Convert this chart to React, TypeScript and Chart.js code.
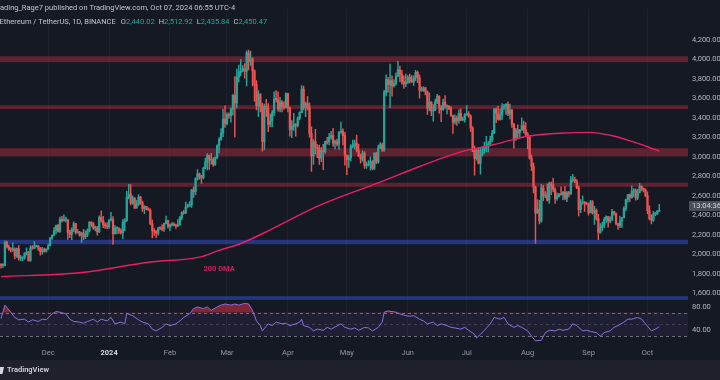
import React, { useEffect, useRef } from "react";
import { Chart, registerables } from "chart.js";

Chart.register(...registerables);

// ---------- data (ETH/USDT daily, idx 0 = 2023-11-07 ... idx 335 = 2024-10-07) ----------
const FIRST_OPEN = 1894;

const closes = [
  // Nov 7 - Nov 30
  1885, 1889, 2121, 2077, 2052, 2045, 2054, 1979, 2057, 1960, 1962, 1963, 2013, 2020, 1931, 2063, 2062, 2081, 2084, 2063, 2027, 2048, 2028, 2052,
  // Dec
  2087, 2166, 2193, 2243, 2293, 2233, 2358, 2344, 2352, 2353, 2225, 2203, 2260, 2315, 2220, 2228, 2196, 2217, 2178, 2200, 2240, 2326, 2311, 2267, 2272, 2231, 2378, 2345, 2300, 2292, 2282,
  // Jan
  2352, 2355, 2210, 2268, 2268, 2240, 2222, 2331, 2345, 2585, 2617, 2524, 2576, 2472, 2511, 2587, 2528, 2467, 2490, 2469, 2454, 2313, 2241, 2236, 2218, 2268, 2267, 2256, 2317, 2344, 2283,
  // Feb
  2304, 2309, 2296, 2290, 2300, 2373, 2425, 2421, 2486, 2500, 2506, 2658, 2641, 2777, 2824, 2803, 2784, 2880, 2944, 3013, 2966, 2971, 2922, 2991, 3112, 3178, 3243, 3385, 3340,
  // Mar
  3433, 3421, 3488, 3630, 3553, 3817, 3868, 3883, 3905, 3878, 4066, 3980, 4004, 3882, 3740, 3524, 3645, 3516, 3158, 3517, 3494, 3330, 3366, 3453, 3590, 3586, 3488, 3560, 3510, 3507, 3647,
  // Apr
  3505, 3277, 3311, 3329, 3318, 3397, 3453, 3694, 3506, 3545, 3503, 3240, 3007, 3155, 3100, 3085, 2985, 3064, 3055, 3158, 3148, 3201, 3218, 3139, 3155, 3130, 3253, 3263, 3217, 3015,
  // May
  2970, 2988, 3103, 3117, 3137, 3064, 3005, 2974, 3037, 2910, 2912, 2930, 2950, 2881, 3038, 2945, 3092, 3123, 3071, 3662, 3790, 3738, 3780, 3728, 3749, 3826, 3892, 3843, 3767, 3747, 3761,
  // Jun
  3814, 3780, 3767, 3810, 3866, 3812, 3679, 3681, 3706, 3665, 3499, 3561, 3470, 3480, 3565, 3621, 3509, 3483, 3561, 3515, 3518, 3494, 3419, 3354, 3396, 3369, 3445, 3375, 3380, 3432,
  // Jul
  3441, 3418, 3295, 3057, 2982, 3066, 2931, 3018, 3066, 3099, 3101, 3136, 3177, 3245, 3485, 3443, 3386, 3426, 3505, 3518, 3536, 3440, 3479, 3337, 3172, 3274, 3246, 3270, 3320, 3279, 3232,
  // Aug
  3205, 2986, 2902, 2688, 2420, 2461, 2342, 2682, 2597, 2610, 2555, 2722, 2703, 2664, 2569, 2593, 2614, 2612, 2636, 2573, 2632, 2622, 2763, 2768, 2746, 2681, 2457, 2528, 2530, 2524, 2513,
  // Sep
  2424, 2538, 2424, 2450, 2367, 2224, 2272, 2297, 2359, 2387, 2340, 2361, 2437, 2418, 2316, 2294, 2341, 2375, 2467, 2561, 2613, 2581, 2646, 2654, 2579, 2633, 2696, 2676, 2658, 2602,
  // Oct 1 - Oct 7
  2447, 2364, 2350, 2414, 2414, 2440.02, 2450.47,
];

const highs = [
  1905, 1905, 2137, 2135, 2093, 2067, 2117, 2066, 2063, 2090, 1990, 1971, 2015, 2066, 2030, 2090, 2089, 2130, 2092, 2092, 2070, 2070, 2063, 2055,
  2105, 2170, 2200, 2275, 2300, 2307, 2380, 2390, 2403, 2380, 2355, 2245, 2270, 2333, 2316, 2255, 2236, 2225, 2256, 2240, 2260, 2336, 2335, 2325, 2290, 2285, 2394, 2445, 2388, 2324, 2322,
  2353, 2431, 2385, 2295, 2280, 2272, 2260, 2357, 2365, 2644, 2717, 2715, 2600, 2580, 2550, 2613, 2594, 2545, 2500, 2485, 2475, 2465, 2350, 2262, 2242, 2275, 2280, 2305, 2320, 2392, 2350,
  2310, 2325, 2325, 2310, 2355, 2390, 2436, 2450, 2535, 2515, 2540, 2665, 2689, 2783, 2867, 2832, 2808, 2895, 2985, 3033, 3016, 3035, 2990, 3000, 3122, 3197, 3288, 3487, 3523,
  3450, 3451, 3500, 3637, 3823, 3900, 3939, 3995, 3935, 3955, 4087, 4093, 4083, 4015, 3890, 3780, 3677, 3615, 3548, 3539, 3588, 3544, 3437, 3475, 3665, 3678, 3665, 3610, 3576, 3565, 3655,
  3650, 3508, 3370, 3445, 3340, 3410, 3460, 3730, 3725, 3560, 3618, 3553, 3306, 3177, 3280, 3125, 3120, 3095, 3128, 3160, 3200, 3240, 3260, 3292, 3170, 3180, 3257, 3355, 3285, 3250,
  3020, 3015, 3124, 3170, 3170, 3222, 3130, 3025, 3060, 3052, 2945, 2960, 2998, 2960, 3040, 3042, 3120, 3145, 3140, 3680, 3840, 3815, 3950, 3830, 3790, 3860, 3977, 3930, 3885, 3830, 3848,
  3833, 3848, 3832, 3830, 3887, 3878, 3840, 3714, 3720, 3712, 3672, 3655, 3565, 3535, 3590, 3640, 3625, 3525, 3590, 3628, 3531, 3525, 3515, 3428, 3430, 3420, 3480, 3490, 3407, 3442,
  3524, 3464, 3430, 3310, 3110, 3080, 3090, 3094, 3105, 3150, 3208, 3155, 3208, 3270, 3495, 3498, 3518, 3489, 3544, 3538, 3545, 3563, 3540, 3487, 3340, 3290, 3327, 3280, 3400, 3365, 3350,
  3248, 3218, 3017, 2935, 2698, 2560, 2553, 2716, 2707, 2642, 2722, 2740, 2740, 2780, 2680, 2630, 2625, 2690, 2645, 2695, 2645, 2645, 2800, 2820, 2792, 2765, 2700, 2560, 2600, 2540, 2535,
  2525, 2553, 2550, 2490, 2465, 2408, 2315, 2330, 2375, 2393, 2390, 2385, 2460, 2440, 2424, 2316, 2392, 2375, 2485, 2565, 2615, 2618, 2702, 2673, 2672, 2665, 2728, 2703, 2680, 2672,
  2640, 2498, 2404, 2440, 2427, 2450, 2512.92,
];

const lows = [
  1857, 1865, 1879, 2065, 2040, 2025, 2030, 1951, 1968, 1940, 1932, 1933, 1950, 1994, 1930, 1931, 2050, 2057, 2076, 2039, 1990, 2000, 2020, 2020,
  2049, 2085, 2152, 2188, 2208, 2227, 2225, 2330, 2340, 2330, 2151, 2170, 2150, 2232, 2205, 2215, 2185, 2120, 2150, 2160, 2180, 2230, 2285, 2255, 2240, 2195, 2220, 2330, 2272, 2266, 2260,
  2265, 2341, 2100, 2205, 2208, 2212, 2205, 2160, 2240, 2336, 2568, 2507, 2513, 2470, 2475, 2500, 2510, 2440, 2415, 2455, 2450, 2304, 2168, 2193, 2170, 2196, 2252, 2240, 2234, 2311, 2268,
  2242, 2288, 2290, 2265, 2282, 2297, 2355, 2410, 2418, 2480, 2490, 2480, 2582, 2610, 2760, 2768, 2726, 2772, 2877, 2865, 2870, 2924, 2900, 2910, 2980, 3040, 3168, 3205, 3300,
  3325, 3393, 3355, 3427, 3200, 3500, 3768, 3830, 3870, 3805, 3725, 3890, 3936, 3725, 3570, 3480, 3410, 3460, 3056, 3072, 3413, 3256, 3305, 3305, 3422, 3560, 3468, 3460, 3460, 3485, 3500,
  3460, 3212, 3195, 3270, 3210, 3305, 3380, 3450, 3480, 3410, 3480, 3200, 2850, 2920, 3030, 2990, 2920, 2950, 2868, 3035, 3130, 3120, 3180, 3105, 3080, 3110, 3075, 3240, 3120, 2914,
  2817, 2890, 2958, 3090, 3080, 3050, 3000, 2935, 2953, 2880, 2880, 2905, 2863, 2865, 2866, 2930, 2935, 3083, 3055, 3055, 3623, 3660, 3502, 3622, 3713, 3735, 3820, 3770, 3745, 3700, 3718,
  3752, 3753, 3760, 3730, 3780, 3760, 3600, 3670, 3670, 3635, 3435, 3470, 3420, 3365, 3472, 3544, 3443, 3360, 3475, 3495, 3440, 3480, 3415, 3240, 3335, 3320, 3345, 3370, 3370, 3355,
  3423, 3403, 3260, 3053, 2810, 2965, 2925, 2822, 3005, 3035, 3050, 3050, 3120, 3155, 3240, 3350, 3375, 3374, 3380, 3480, 3433, 3420, 3388, 3300, 3087, 3170, 3191, 3200, 3295, 3245, 3215,
  3080, 2976, 2858, 2630, 2111, 2420, 2310, 2325, 2550, 2580, 2545, 2520, 2610, 2640, 2520, 2555, 2585, 2605, 2560, 2557, 2538, 2587, 2612, 2740, 2735, 2673, 2393, 2425, 2510, 2440, 2505,
  2400, 2425, 2410, 2306, 2350, 2150, 2217, 2240, 2272, 2325, 2278, 2320, 2345, 2400, 2300, 2255, 2273, 2275, 2373, 2448, 2535, 2540, 2575, 2590, 2555, 2560, 2630, 2650, 2640, 2590,
  2415, 2352, 2310, 2337, 2396, 2405, 2435.84,
];

// 200-day moving average (day index -> price)
const dmaDays = [0, 40, 76, 101, 111, 122, 137, 162, 193, 213, 234, 250, 268, 284, 300, 310, 319, 335];
const dmaValues = [1770, 1810, 1920, 1970, 2040, 2110, 2250, 2500, 2740, 2900, 3050, 3120, 3210, 3240, 3250, 3220, 3170, 3060];

// RSI(14) (day index -> value)
const rsiDays = [
  0, 2, 5, 7, 9, 12, 14, 16, 19, 21, 23, 26, 28, 30, 33, 35, 37, 40, 42, 44, 47, 49, 51, 54, 56, 58, 61, 63, 64, 67,
  70, 72, 75, 77, 79, 82, 84, 86, 89, 91, 93, 96, 98, 100, 103, 105, 107, 110, 112, 114, 117, 119, 121, 124, 126, 128,
  130, 132, 133, 136, 138, 140, 143, 145, 147, 150, 152, 153, 154, 157, 159, 161, 164, 166, 168, 173, 175, 178, 180,
  182, 185, 187, 189, 192, 194, 195, 197, 201, 203, 206, 208, 210, 213, 215, 217, 220, 222, 224, 227, 229, 231, 234,
  236, 238, 241, 242, 244, 246, 249, 251, 254, 256, 258, 261, 263, 265, 268, 270, 272, 275, 277, 279, 282, 284, 286,
  289, 291, 293, 296, 298, 300, 303, 305, 307, 310, 312, 314, 317, 319, 321, 324, 326, 328, 331, 333, 335,
];
const rsiValues = [
  60, 83, 71, 62, 58, 59, 54, 58, 55, 59, 58, 68, 72, 71, 68, 59, 55, 54, 52, 55, 59, 54, 59, 56, 62, 51, 54, 51, 69, 65,
  58, 54, 51, 42, 39, 45, 51, 48, 51, 56, 62, 68, 77, 80, 77, 80, 74, 80, 83, 85, 83, 85, 83, 86, 85, 74,
  56, 48, 39, 51, 48, 54, 51, 52, 48, 51, 54, 59, 48, 45, 39, 42, 40, 45, 42, 51, 45, 42, 44,
  40, 45, 44, 39, 45, 54, 71, 73, 71, 68, 65, 64, 65, 59, 56, 51, 54, 48, 51, 48, 45, 44, 42,
  45, 40, 33, 27, 33, 40, 51, 62, 59, 62, 51, 45, 48, 45, 39, 30, 22, 23, 36, 40, 39, 42, 40,
  42, 51, 48, 39, 40, 38, 36, 30, 36, 39, 45, 48, 54, 59, 59, 62, 59, 51, 39, 42, 46,
];

const monthTickDays = [24, 55, 86, 115, 146, 176, 207, 237, 268, 299, 329];
const monthTickLabels = ["Dec", "2024", "Feb", "Mar", "Apr", "May", "Jun", "Jul", "Aug", "Sep", "Oct"];
const priceTicks = [1600, 1800, 2000, 2200, 2400, 2600, 2800, 3000, 3200, 3400, 3600, 3800, 4000, 4200];
const rsiTicks = [80, 40];
const rsiLevels = [70, 50, 30];

const resistanceLow = [3970, 3488, 3003, 2692];
const resistanceHigh = [4030, 3528, 3088, 2733];
const supportLow = [2103, 1532];
const supportHigh = [2148, 1570];

const DMA_LABEL_DAY = 111;
const DMA_LABEL_PRICE = 1850;

const HEADER_LINE_1 = "ading_Rage7 published on TradingView.com, Oct 07, 2024 06:55 UTC-4";
const SYMBOL_TITLE = "Ethereum / TetherUS, 1D, BINANCE";
const OHLC_KEYS = ["O", "H", "L", "C"];
const OHLC_VALUES = ["2,440.02", "2,512.92", "2,435.84", "2,450.47"];
const COUNTDOWN = "13:04:36";

// ---------- styles ----------
const FONT = "Roboto, 'Liberation Sans', sans-serif";
const BG = "#151924";
const FOOTER_BG = "#1e212b";
const UP = "#26a69a";
const DOWN = "#ef5350";
const AXIS_TEXT = "#b2b5be";
const ZONE_RED = "rgba(140,40,56,0.62)";
const ZONE_BLUE = "rgba(50,80,200,0.55)";
const DMA_COLOR = "#e91e63";

const overlayPlugin = {
  id: "tvOverlay",
  beforeDraw(chart: any) {
    const { ctx, width, height } = chart;
    ctx.save();
    ctx.fillStyle = BG;
    ctx.fillRect(0, 0, width, height);
    ctx.fillStyle = FOOTER_BG;
    ctx.fillRect(0, 360, width, 20);
    ctx.restore();
  },
  beforeDatasetsDraw(chart: any) {
    const { ctx, chartArea: a, scales } = chart;
    const y = scales.y;
    const r = scales.y2;
    ctx.save();
    ctx.beginPath();
    ctx.rect(a.left, a.top, a.right - a.left, a.bottom - a.top);
    ctx.clip();
    ctx.fillStyle = ZONE_RED;
    resistanceLow.forEach((lo, i) => {
      const t = y.getPixelForValue(resistanceHigh[i]);
      const b = y.getPixelForValue(lo);
      ctx.fillRect(a.left, t, a.right - a.left, b - t);
    });
    ctx.fillStyle = ZONE_BLUE;
    supportLow.forEach((lo, i) => {
      const t = y.getPixelForValue(supportHigh[i]);
      const b = y.getPixelForValue(lo);
      ctx.fillRect(a.left, t, a.right - a.left, b - t);
    });
    const t70 = r.getPixelForValue(rsiLevels[0]);
    const b30 = r.getPixelForValue(rsiLevels[2]);
    ctx.fillStyle = "rgba(126,87,194,0.10)";
    ctx.fillRect(a.left, t70, a.right - a.left, b30 - t70);
    ctx.lineWidth = 1;
    ctx.setLineDash([3, 3]);
    rsiLevels.forEach((lv, i) => {
      ctx.strokeStyle = i === 1 ? "rgba(120,123,134,0.35)" : "rgba(140,143,154,0.75)";
      const yy = Math.round(r.getPixelForValue(lv)) + 0.5;
      ctx.beginPath();
      ctx.moveTo(a.left, yy);
      ctx.lineTo(a.right, yy);
      ctx.stroke();
    });
    ctx.restore();
  },
  afterDraw(chart: any) {
    const { ctx, scales } = chart;
    const x = scales.x;
    const y = scales.y;
    const r = scales.y2;
    ctx.save();
    ctx.textBaseline = "middle";
    ctx.textAlign = "left";
    ctx.font = `7.5px ${FONT}`;
    ctx.fillStyle = AXIS_TEXT;
    rsiTicks.forEach((v) => ctx.fillText(v.toFixed(2), 692, r.getPixelForValue(v)));

    // countdown box
    ctx.fillStyle = "#4a4d58";
    ctx.fillRect(689, 201, 31, 10);
    ctx.fillStyle = "#d1d4dc";
    ctx.fillText(COUNTDOWN, 692, 206.5);

    // 200 DMA label
    ctx.font = `bold 7.5px ${FONT}`;
    ctx.fillStyle = "#d81b60";
    ctx.textAlign = "center";
    ctx.fillText("200 DMA", x.getPixelForValue(DMA_LABEL_DAY), y.getPixelForValue(DMA_LABEL_PRICE));

    // header
    ctx.textAlign = "left";
    ctx.font = `7.5px ${FONT}`;
    ctx.fillStyle = "#c3c6ce";
    ctx.fillText(HEADER_LINE_1, 0, 8);
    let cx = -0.5;
    ctx.fillStyle = "#c3c6ce";
    ctx.fillText(SYMBOL_TITLE, cx, 22);
    cx += ctx.measureText(SYMBOL_TITLE).width + 5;
    OHLC_KEYS.forEach((k, i) => {
      ctx.fillStyle = "#c3c6ce";
      ctx.fillText(k, cx, 22);
      cx += ctx.measureText(k).width;
      ctx.fillStyle = UP;
      ctx.fillText(OHLC_VALUES[i], cx, 22);
      cx += ctx.measureText(OHLC_VALUES[i]).width + 4;
    });

    // footer
    ctx.fillStyle = "#d1d4dc";
    ctx.beginPath();
    ctx.moveTo(0, 367);
    ctx.lineTo(4, 367);
    ctx.lineTo(2.5, 374);
    ctx.lineTo(0, 374);
    ctx.closePath();
    ctx.fill();
    ctx.font = `600 7.5px ${FONT}`;
    ctx.fillText("TradingView", 7, 370.5);
    ctx.restore();
  },
};

export default function App() {
  const ref = useRef<HTMLCanvasElement>(null);

  useEffect(() => {
    const canvas = ref.current;
    if (!canvas) return;
    const opens = closes.map((c, i) => (i === 0 ? FIRST_OPEN : closes[i - 1]));
    const days = closes.map((_, i) => i);
    const colorFor = (i: number) => (closes[i] >= opens[i] ? UP : DOWN);

    const chart = new Chart(canvas, {
      type: "bar",
      data: {
        datasets: [
          {
            type: "line",
            label: "RSI",
            yAxisID: "y2",
            data: rsiDays.map((d, i) => ({ x: d, y: rsiValues[i] })),
            borderColor: "#8a72d8",
            borderWidth: 1,
            pointRadius: 0,
            tension: 0,
            fill: { value: 70, above: "rgba(220,50,70,0.55)", below: "rgba(0,0,0,0)" },
            order: 0,
          } as any,
          {
            type: "line",
            label: "200 DMA",
            yAxisID: "y",
            data: dmaDays.map((d, i) => ({ x: d, y: dmaValues[i] })),
            borderColor: DMA_COLOR,
            borderWidth: 1.4,
            pointRadius: 0,
            cubicInterpolationMode: "monotone",
            fill: false,
            order: 0,
          } as any,
          {
            type: "bar",
            label: "bodies",
            yAxisID: "y",
            data: days.map((i) => ({ x: i, y: [opens[i], closes[i]] })),
            backgroundColor: (c: any) => colorFor(c.dataIndex),
            borderWidth: 0,
            barThickness: 1.6,
            minBarLength: 1,
            grouped: false,
            order: 1,
          } as any,
          {
            type: "bar",
            label: "wicks",
            yAxisID: "y",
            data: days.map((i) => ({ x: i, y: [lows[i], highs[i]] })),
            backgroundColor: (c: any) => colorFor(c.dataIndex),
            borderWidth: 0,
            barThickness: 0.8,
            grouped: false,
            order: 2,
          } as any,
        ],
      },
      options: {
        responsive: false,
        animation: false,
        devicePixelRatio: 1,
        layout: { padding: 0 },
        plugins: { legend: { display: false }, tooltip: { enabled: false } },
        events: [],
        scales: {
          x: {
            type: "linear",
            position: "bottom",
            min: -0.509,
            max: 349.62,
            offset: false,
            afterFit: (s: any) => {
              s.height = 38;
            },
            afterBuildTicks: (s: any) => {
              s.ticks = monthTickDays.map((v) => ({ value: v }));
            },
            ticks: {
              autoSkip: false,
              maxRotation: 0,
              padding: 7,
              callback: (v: any) => monthTickLabels[monthTickDays.indexOf(Number(v))],
              color: (c: any) => (c.tick && c.tick.label === "2024" ? "#d1d4dc" : "#9598a1"),
              font: (c: any) => ({
                family: FONT,
                size: 7.5,
                weight: c.tick && c.tick.label === "2024" ? "bold" : "normal",
              }),
            },
            grid: { color: "rgba(255,255,255,0.035)", drawTicks: false, offset: false },
            border: { display: false },
          },
          y: {
            type: "linear",
            position: "right",
            min: 1100,
            max: 4520,
            afterFit: (s: any) => {
              s.width = 32;
            },
            afterBuildTicks: (s: any) => {
              s.ticks = priceTicks.map((v) => ({ value: v }));
            },
            ticks: {
              padding: 4,
              color: AXIS_TEXT,
              font: { family: FONT, size: 7.5 },
              callback: (v: any) =>
                Number(v).toLocaleString("en-US", { minimumFractionDigits: 2, maximumFractionDigits: 2 }),
            },
            grid: { display: false, drawTicks: false },
            border: { display: false },
          },
          y2: {
            type: "linear",
            display: false,
            min: 20,
            max: 590,
          },
        },
      } as any,
      plugins: [overlayPlugin],
    });
    return () => chart.destroy();
  }, []);

  return (
    <div style={{ position: "fixed", left: 0, top: 0, width: 720, height: 380, background: BG }}>
      <canvas ref={ref} width={720} height={380} style={{ width: 720, height: 380, display: "block" }} />
    </div>
  );
}
